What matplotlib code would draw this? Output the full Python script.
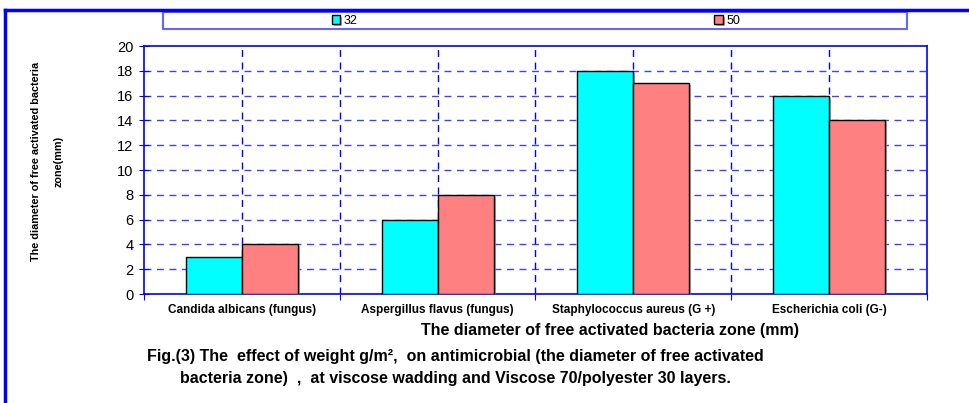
import matplotlib
matplotlib.use("Agg")
import matplotlib.pyplot as plt
import matplotlib.patches as mpatches
import matplotlib.patheffects as pe
import numpy as np

plt.rcParams['font.family'] = ['Liberation Sans', 'DejaVu Sans']

categories = ["Candida albicans (fungus)", "Aspergillus flavus (fungus)",
              "Staphylococcus aureus (G +)", "Escherichia coli (G-)"]
series_names = ["32", "50"]
values_32 = [3, 6, 18, 16]
values_50 = [4, 8, 17, 14]
y_ticks = [0, 2, 4, 6, 8, 10, 12, 14, 16, 18, 20]

BLUE = '#0000FF'

fig = plt.figure(figsize=(9.70, 4.03), dpi=100)
ax = fig.add_axes([144/970, 1 - 294/403, (927 - 144)/970, (294 - 46)/403])

x = np.arange(len(categories)) + 0.5
w = 0.286
shadow = [pe.SimplePatchShadow(offset=(1.5, -1.5), shadow_rgbFace='#999999', alpha=0.8), pe.Normal()]
b1 = ax.bar(x - w/2, values_32, width=w, color='#00FFFF', edgecolor='black', linewidth=1.0,
            label=series_names[0], zorder=3)
b2 = ax.bar(x + w/2, values_50, width=w, color='#FF8080', edgecolor='black', linewidth=1.0,
            label=series_names[1], zorder=3)
for p in list(b1) + list(b2):
    p.set_path_effects(shadow)

ax.set_xlim(0, len(categories))
ax.set_ylim(0, 20)
ax.set_yticks(y_ticks)
ax.set_yticklabels([str(t) for t in y_ticks], fontsize=10.5)

# category boundaries as major ticks, labels at centers via minor ticks
ax.set_xticks(np.arange(len(categories) + 1))
ax.set_xticklabels([])
ax.set_xticks(x, minor=True)
ax.set_xticklabels(categories, minor=True, fontsize=8.5, fontweight='bold')
ax.tick_params(axis='x', which='minor', length=0, pad=7)
ax.tick_params(axis='x', which='major', direction='out', length=4, color=BLUE)
ax.tick_params(axis='y', direction='inout', length=7, color=BLUE, pad=4)

# dashed grid
for yv in y_ticks[1:-1]:
    ax.axhline(yv, color=BLUE, linestyle=(0, (5, 4)), linewidth=1.0, alpha=0.75, zorder=1)
for xv in np.arange(0.5, len(categories), 0.5):
    ax.axvline(xv, color=BLUE, linestyle=(0, (5, 4)), linewidth=1.0, zorder=1)

for s in ax.spines.values():
    s.set_color(BLUE)
    s.set_linewidth(1.2)

ax.set_xlabel("The diameter of free activated bacteria zone (mm)", fontsize=11.5,
              fontweight='bold', labelpad=5)
ax.xaxis.label.set_x((610 - 144) / 783)

fig.text(47/970, 1 - 161/403, "The diameter of free activated bacteria\nzone(mm)",
         rotation=90, ha='center', va='center', fontsize=7.8, fontweight='bold',
         linespacing=2.6, multialignment='center')

# legend box
fig.patches.append(mpatches.Rectangle((163/970, 1 - 29/403), (907 - 163)/970, 17/403,
                                      transform=fig.transFigure, fill=False,
                                      edgecolor='#6666FF', linewidth=1.5))
fig.legend(handles=[b1, b2], labels=series_names, loc='center',
           bbox_to_anchor=(536/970, 1 - 21/403), ncol=2, frameon=False,
           fontsize=9, handlelength=0.7, handleheight=0.7, handletextpad=0.3,
           columnspacing=28.5)

# outer frame
fig.add_artist(plt.Line2D([5/970, 1], [1 - 10/403, 1 - 10/403], transform=fig.transFigure,
                          color=BLUE, linewidth=2.5))
fig.add_artist(plt.Line2D([5/970, 5/970], [0, 1 - 10/403], transform=fig.transFigure,
                          color=BLUE, linewidth=2.5))

fig.text(147/970, 1 - 356/403,
         "Fig.(3) The  effect of weight g/m\u00b2,  on antimicrobial (the diameter of free activated",
         ha='left', va='center', fontsize=11.5, fontweight='bold')
fig.text(180/970, 1 - 379/403,
         "bacteria zone)  ,  at viscose wadding and Viscose 70/polyester 30 layers.",
         ha='left', va='center', fontsize=11.5, fontweight='bold')

fig.savefig("out.png", dpi=100)
